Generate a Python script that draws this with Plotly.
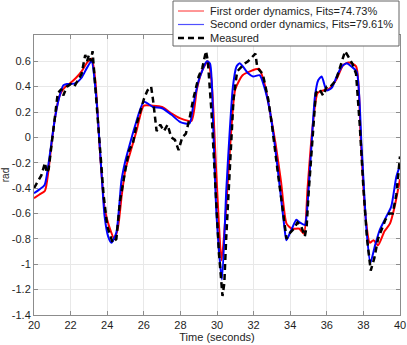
import plotly.graph_objects as go

# first order model (red)
t_first = [20.0, 20.3, 20.6, 20.8, 21.0, 21.2, 21.4, 21.6, 21.8, 22.0, 22.3, 22.6, 22.9, 23.15,
           23.35, 23.6, 23.85, 24.1, 24.4, 24.6, 24.8, 25.0, 25.3, 25.6, 26.0, 26.5, 27.0, 27.5,
           28.0, 28.6, 28.9, 29.2, 29.5, 29.7, 29.95, 30.25, 30.5, 30.75, 31.0, 31.4, 31.8, 32.3,
           32.6, 32.9, 33.2, 33.5, 33.8, 34.1, 34.5, 34.75, 34.95, 35.2, 35.5, 35.8, 36.1, 36.5,
           36.9, 37.2, 37.6, 37.85, 38.1, 38.35, 38.55, 38.8, 39.15, 39.45, 39.7, 40.0]
first_order = [-0.48, -0.45, -0.42, -0.25, 0.0, 0.2, 0.33, 0.38, 0.41, 0.43, 0.47, 0.52, 0.59, 0.62,
               0.45, -0.1, -0.55, -0.7, -0.8, -0.7, -0.45, -0.25, -0.1, 0.05, 0.25, 0.25, 0.24, 0.19,
               0.15, 0.13, 0.38, 0.53, 0.6, 0.45, -0.25, -0.97, -0.55, 0.0, 0.38, 0.49, 0.52, 0.54,
               0.42, 0.2, -0.05, -0.35, -0.68, -0.72, -0.72, -0.76, -0.4, 0.05, 0.35, 0.37, 0.38, 0.45,
               0.57, 0.59, 0.56, 0.0, -0.6, -0.83, -0.81, -0.85, -0.74, -0.68, -0.55, -0.33]

# second order model (blue)
t_second = [20.0, 20.3, 20.58, 20.85, 21.13, 21.35, 21.6, 21.8, 22.0, 22.3, 22.6, 22.9, 23.14,
            23.4, 23.68, 23.86, 24.05, 24.23, 24.5, 24.78, 25.0, 25.3, 25.5, 26.0, 26.5, 27.0,
            27.5, 28.0, 28.5, 28.7, 29.0, 29.45, 29.62, 29.8, 29.97, 30.27, 30.51, 30.7, 30.87,
            31.06, 31.24, 31.42, 31.7, 31.97, 32.33, 32.6, 32.88, 33.15, 33.43, 33.7, 33.79, 34.06,
            34.34, 34.52, 34.8, 34.89, 35.16, 35.35, 35.53, 35.72, 35.99, 36.27, 36.54, 36.81,
            37.09, 37.36, 37.63, 37.9, 38.17, 38.38, 38.62, 38.89, 39.25, 39.52, 39.8, 40.0]
second_order = [-0.44, -0.41, -0.375, -0.15, 0.137, 0.3, 0.41, 0.42, 0.42, 0.43, 0.47, 0.55, 0.6,
                0.32, -0.26, -0.625, -0.78, -0.83, -0.75, -0.34, -0.18, -0.02, 0.08, 0.28, 0.24, 0.23,
                0.18, 0.12, 0.11, 0.25, 0.45, 0.6, 0.58, 0.06, -0.6, -1.12, -0.41, 0.06, 0.4,
                0.557, 0.585, 0.557, 0.505, 0.48, 0.49, 0.39, 0.216, -0.05, -0.39, -0.73, -0.81, -0.73,
                -0.65, -0.67, -0.69, -0.625, -0.07, 0.32, 0.45, 0.48, 0.37, 0.39, 0.48, 0.557,
                0.585, 0.557, 0.52, -0.07, -0.73, -0.99, -0.86, -0.73, -0.625, -0.546, -0.31, -0.22]

# measured (black dashed)
t_meas = [20.0, 20.2, 20.4, 20.6, 20.7, 20.8, 21.0, 21.2, 21.3, 21.5, 21.6, 21.8, 22.0, 22.2, 22.4,
          22.6, 22.8, 22.9, 23.0, 23.1, 23.2, 23.3, 23.5, 23.8, 24.0, 24.3, 24.5, 24.7, 25.0, 25.2,
          25.4, 25.6, 25.8, 26.0, 26.2, 26.4, 26.5, 26.6, 26.7, 26.9, 27.1, 27.3, 27.5, 27.7, 27.9,
          28.1, 28.3, 28.5, 28.7, 29.0, 29.2, 29.4, 29.5, 29.7, 29.9, 30.1, 30.3, 30.4, 30.5, 30.7,
          30.9, 31.1, 31.3, 31.5, 31.7, 31.9, 32.1, 32.2, 32.5, 32.8, 33.0, 33.3, 33.6, 33.8, 34.0,
          34.2, 34.4, 34.6, 34.8, 34.9, 35.0, 35.2, 35.4, 35.6, 35.8, 36.0, 36.2, 36.5, 36.8, 37.0,
          37.2, 37.4, 37.6, 37.8, 38.0, 38.2, 38.4, 38.6, 38.8, 39.0, 39.2, 39.4, 39.6, 39.8, 40.0]
measured = [-0.4, -0.35, -0.3, -0.2, -0.28, -0.25, 0.0, 0.25, 0.35, 0.38, 0.33, 0.4, 0.42, 0.4, 0.45,
            0.5, 0.65, 0.6, 0.65, 0.6, 0.68, 0.5, 0.1, -0.45, -0.7, -0.83, -0.8, -0.5, -0.25, -0.1,
            -0.05, 0.1, 0.2, 0.3, 0.37, 0.4, 0.3, 0.15, 0.05, 0.1, 0.05, 0.1, 0.0, -0.02, -0.1,
            0.0, 0.03, 0.15, 0.3, 0.48, 0.55, 0.68, 0.6, 0.2, -0.4, -0.9, -1.25, -1.15, -0.8, -0.2,
            0.3, 0.52, 0.55, 0.58, 0.6, 0.63, 0.66, 0.55, 0.5, 0.3, 0.1, -0.25, -0.6, -0.8, -0.75,
            -0.72, -0.67, -0.7, -0.78, -0.7, -0.45, -0.05, 0.35, 0.38, 0.33, 0.4, 0.4, 0.45, 0.6, 0.68,
            0.63, 0.58, 0.5, 0.1, -0.4, -0.8, -1.05, -0.95, -0.8, -0.72, -0.65, -0.6, -0.6, -0.45, -0.15]

x_ticks = [20, 22, 24, 26, 28, 30, 32, 34, 36, 38, 40]
y_ticks = [-1.4, -1.2, -1.0, -0.8, -0.6, -0.4, -0.2, 0, 0.2, 0.4, 0.6]
y_labels = ['-1.4', '-1.2', '-1', '-0.8', '-0.6', '-0.4', '-0.2', '0', '0.2', '0.4', '0.6']

names = ['First order dynamics, Fits=74.73%', 'Second order dynamics, Fits=79.61%', 'Measured']

font = 'Liberation Sans, Arial, sans-serif'
txt = 'rgb(30,30,30)'

fig = go.Figure()
fig.add_trace(go.Scatter(x=t_first, y=first_order, mode='lines', name=names[0],
                         line=dict(color='rgb(255,0,0)', width=2, shape='spline', smoothing=0.6)))
fig.add_trace(go.Scatter(x=t_second, y=second_order, mode='lines', name=names[1],
                         line=dict(color='rgb(0,0,255)', width=2, shape='spline', smoothing=0.6)))
fig.add_trace(go.Scatter(x=t_meas, y=measured, mode='lines', name=names[2],
                         line=dict(color='black', width=2.5, dash='6px,4px')))

axis_style = dict(showline=True, linecolor='rgb(140,140,140)', linewidth=1, mirror='ticks',
                  ticks='inside', ticklen=4, tickcolor='rgb(140,140,140)',
                  showgrid=True, gridcolor='rgb(232,232,232)', zeroline=False, automargin=False,
                  tickfont=dict(size=11, color=txt, family=font))

fig.update_xaxes(range=[20, 40], tickvals=x_ticks, ticktext=[str(v) for v in x_ticks],
                 title=dict(text='Time (seconds)', standoff=0,
                            font=dict(size=11, color=txt, family=font)),
                 **axis_style)
fig.update_yaxes(range=[-1.4, 0.807], tickvals=y_ticks, ticktext=y_labels,
                 title=dict(text='rad', standoff=2,
                            font=dict(size=10, color=txt, family=font)),
                 **axis_style)

# matlab-style legend box drawn by hand (plotly legend rows are too tall)
fig.add_shape(type='rect', xref='paper', yref='paper', x0=0.3798, x1=0.9973, y0=0.9607, y1=1.1214,
              fillcolor='white', line=dict(color='rgb(100,100,100)', width=1), layer='above')
rows = [1.0857, 1.0375, 0.9893]
samples = [dict(color='rgb(255,80,80)', width=1.2), dict(color='rgb(80,80,255)', width=1.2),
           dict(color='black', width=2.5, dash='6px,4px')]
for name, yy, ln in zip(names, rows, samples):
    fig.add_shape(type='line', xref='paper', yref='paper', x0=0.3934, x1=0.4645, y0=yy, y1=yy,
                  line=ln, layer='above')
    fig.add_annotation(text=name, xref='paper', yref='paper', x=0.4754, y=yy, xanchor='left',
                       yanchor='middle', showarrow=False, font=dict(size=11, color=txt, family=font))

fig.update_layout(
    width=407, height=345,
    margin=dict(l=34, r=7, t=35, b=30),
    plot_bgcolor='white', paper_bgcolor='white',
    showlegend=False,
)

# drop the browser's default body margin so the figure sits at the window corner
fig.write_html("out.html", config={'displayModeBar': False},
               post_script="document.body.style.margin='0';")
